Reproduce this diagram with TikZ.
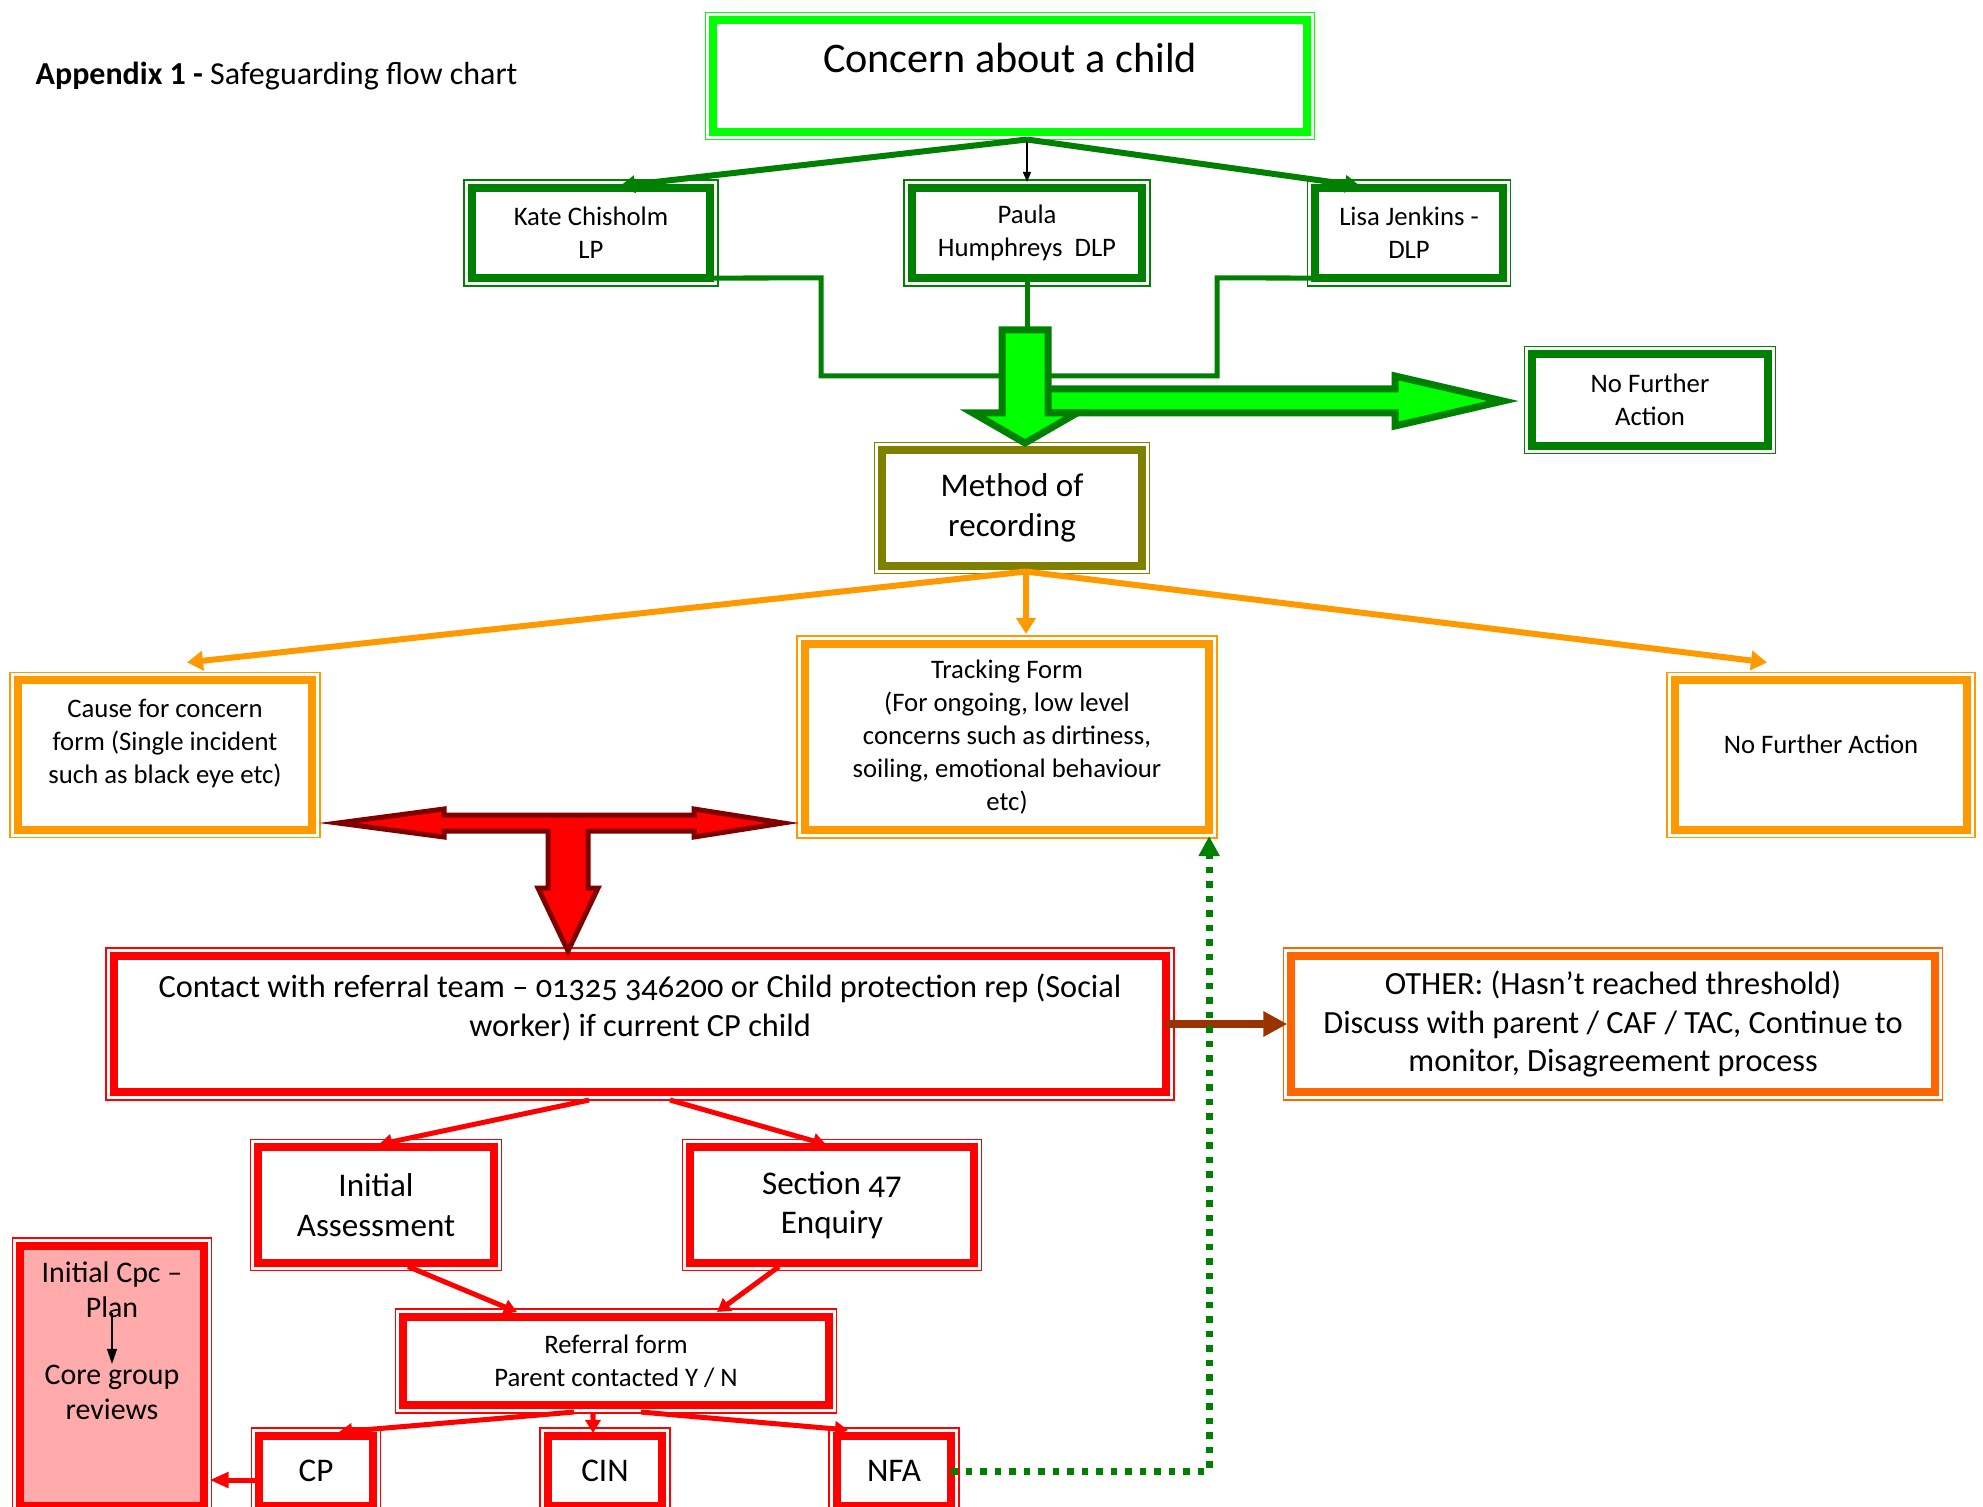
\documentclass[tikz,border=0pt]{standalone}
\usepackage{fontspec}
\setmainfont{Carlito}
\newfontfamily\corbel{Carlito}[Numbers=OldStyle]
\usetikzlibrary{arrows.meta}
\definecolor{brightgreen}{HTML}{00FF00}
\definecolor{dgreen}{HTML}{008000}
\definecolor{olivebox}{HTML}{808000}
\definecolor{amber}{HTML}{FF9900}
\definecolor{rust}{HTML}{FF6600}
\definecolor{brownarrow}{HTML}{993300}
\definecolor{darkred}{HTML}{800000}
\definecolor{pinkfill}{HTML}{FFABAB}
\tikzset{
  box/.style={draw=#1, line width=0.08cm, fill=white, align=center, inner sep=0pt, outer sep=0pt},
  txtS/.style={font=\fontsize{7.6}{9.4}\selectfont},
  txtM/.style={font=\corbel\fontsize{9.2}{10.9}\selectfont},
  txtL/.style={font=\corbel\fontsize{9.4}{11.2}\selectfont},
  cpcText/.style={align=center, inner sep=0pt, font=\corbel\fontsize{8.5}{10}\selectfont},
  elbow/.style={dgreen, line width=0.05cm},
  blockG/.style={draw=dgreen, line width=0.07cm, fill=brightgreen},
  blockR/.style={draw=darkred, line width=0.05cm, fill=red},
  gline/.style={dgreen, line width=0.06cm, -{Triangle[length=0.15cm, width=0.17cm]}},
  oline/.style={amber, line width=0.06cm, -{Triangle[length=0.16cm, width=0.19cm]}},
  rline/.style={red, line width=0.05cm, -{Triangle[length=0.13cm, width=0.15cm]}},
}
\begin{document}
\begin{tikzpicture}[x=0.01cm, y=-0.01cm]
  \useasboundingbox (0,0) rectangle (1983,1507);
  \node[anchor=west, inner sep=0pt, font=\fontsize{9.1}{11}\selectfont] (title) at (35,76) {\textbf{Appendix 1 -} Safeguarding flow chart};

  \node[box=brightgreen, minimum width=5.93cm, minimum height=1.11cm, font=\corbel\fontsize{12}{14}\selectfont, text height=8pt, text depth=10pt] (concern) at (1010,76) {Concern about a child};
  \node[box=dgreen, minimum width=2.38cm, minimum height=0.9cm, txtS] (kate) at (591,233) {Kate Chisholm\\LP};
  \node[box=dgreen, minimum width=2.30cm, minimum height=0.9cm, txtS] (paula) at (1027,233) {Paula\\Humphreys~ DLP};
  \node[box=dgreen, minimum width=1.87cm, minimum height=0.9cm, txtS] (lisa) at (1409,233) {Lisa Jenkins -\\DLP};
  \node[box=dgreen, minimum width=2.35cm, minimum height=0.91cm, txtS] (nfaTop) at (1650,400) {No Further\\Action};
  \node[box=olivebox, minimum width=2.59cm, minimum height=1.15cm, txtL] (method) at (1012,508) {Method of\\recording};
  \node[box=amber, minimum width=2.94cm, minimum height=1.49cm, txtS, text depth=7.8pt] (cause) at (165,755) {Cause for concern\\form (Single incident\\such as black eye etc)};
  \node[box=amber, minimum width=4.04cm, minimum height=1.86cm, txtS] (track) at (1007,737) {Tracking Form\\(For ongoing, low level\\concerns such as dirtiness,\\soiling, emotional behaviour\\etc)};
  \node[box=amber, minimum width=2.92cm, minimum height=1.49cm, txtS, text depth=6.2pt] (nfaMid) at (1821,755) {No Further Action};
  \node[box=red, minimum width=10.51cm, minimum height=1.36cm, txtM, text depth=10.7pt] (contact) at (640,1024) {Contact with referral team – 01325 346200 or Child protection rep (Social\\worker) if current CP child};
  \node[box=rust, minimum width=6.43cm, minimum height=1.36cm, txtM] (other) at (1613,1024) {OTHER: (Hasn’t reached threshold)\\Discuss with parent / CAF / TAC, Continue to\\monitor, Disagreement process};
  \node[box=red, minimum width=2.35cm, minimum height=1.15cm, txtL] (initial) at (376,1205) {Initial\\Assessment};
  \node[box=red, minimum width=2.83cm, minimum height=1.15cm, txtL] (section) at (832,1205) {Section 47\\Enquiry};
  \node[box=red, minimum width=4.25cm, minimum height=0.88cm, txtS] (referral) at (616,1361) {Referral form\\Parent contacted Y / N};
  \node[box=red, minimum width=1.13cm, minimum height=0.70cm, txtL] (cp) at (316,1471) {CP};
  \node[box=red, minimum width=1.14cm, minimum height=0.70cm, txtL] (cin) at (605,1471) {CIN};
  \node[box=red, minimum width=1.14cm, minimum height=0.70cm, txtL] (nfaLow) at (894,1471) {NFA};
  \node[box=red, fill=pinkfill, minimum width=1.83cm, minimum height=2.60cm] (cpc) at (112,1376) {};
  \node[cpcText] (cpcTop) at (112,1290) {Initial Cpc –\\Plan};
  \node[cpcText] (cpcBot) at (112,1392) {Core group\\reviews};

  \foreach \n/\c in {concern/brightgreen, kate/dgreen, paula/dgreen, lisa/dgreen, nfaTop/dgreen, method/olivebox, cause/amber, track/amber, nfaMid/amber, contact/red, other/rust, initial/red, section/red, referral/red, cp/red, cin/red, nfaLow/red, cpc/red}
    \draw[draw=\c, line width=0.015cm] ([shift={(-0.08cm,0.08cm)}]\n.north west) rectangle ([shift={(0.08cm,-0.08cm)}]\n.south east);

  \coordinate (fork) at (paula.north |- concern.south);
  \coordinate (hub) at (1026,376);
  \draw[gline] ([yshift=-0.08cm]fork) -- ([shift={(0.29cm,0.02cm)}]kate.north);
  \draw[black, line width=0.015cm, -{Triangle[length=0.1cm, width=0.08cm]}] ([yshift=-0.08cm]fork) -- ([yshift=0.06cm]paula.north);
  \draw[gline] ([yshift=-0.08cm]fork) -- ([shift={(-0.49cm,0.02cm)}]lisa.north);
  \draw[elbow] ([xshift=0.26cm]kate.south) -- (821,278) |- (hub);
  \draw[elbow] (lisa.south) -- (1217,278) |- (hub);
  \draw[elbow] (paula.south) -- (paula.south |- hub);

  \draw[blockG] (1045,389) -- (1395,389) -- (1395,376) -- (1503,401) -- (1395,426) -- (1395,413) -- (1045,413) -- cycle;
  \draw[blockG] (1002,330) -- (1048,330) -- (1048,413) -- (1077,413) -- (1025,443) -- (973,413) -- (1002,413) -- cycle;

  \coordinate (mfork) at ([shift={(0.14cm,-0.06cm)}]method.south);
  \draw[oline] (mfork) -- ([shift={(0.22cm,0.18cm)}]cause.north);
  \draw[oline] (mfork) -- ([yshift=0.1cm]mfork |- track.north);
  \draw[oline] (mfork) -- ([shift={(-0.54cm,0.18cm)}]nfaMid.north);

  \draw[blockR] (338,823) -- (444,809) -- (444,815) -- (694,815) -- (694,809) -- (783,823) -- (694,837) -- (694,831) -- (588,831) -- (588,888) -- (598,888) -- (568,951) -- (538,888) -- (548,888) -- (548,831) -- (444,831) -- (444,837) -- cycle;

  \draw[brownarrow, line width=0.08cm, -{Triangle[length=0.24cm, width=0.24cm]}] (contact.east) -- ([xshift=-0.04cm]other.west);

  \draw[rline] ([shift={(-0.51cm,-0.08cm)}]contact.south) -- ([shift={(0.03cm,0.03cm)}]initial.north);
  \draw[rline] ([shift={(0.3cm,-0.08cm)}]contact.south) -- ([shift={(-0.06cm,0.03cm)}]section.north);
  \draw[rline] ([shift={(0.32cm,-0.04cm)}]initial.south) -- ([shift={(-0.99cm,0.05cm)}]referral.north);
  \draw[rline] ([shift={(-0.53cm,-0.04cm)}]section.south) -- ([shift={(1.01cm,0.05cm)}]referral.north);
  \draw[rline] ([shift={(-0.42cm,-0.07cm)}]referral.south) -- ([shift={(0.23cm,0.04cm)}]cp.north);
  \draw[rline] ([shift={(-0.23cm,-0.07cm)}]referral.south) -- ([shift={(-0.12cm,0.03cm)}]cin.north);
  \draw[rline] ([shift={(0.25cm,-0.07cm)}]referral.south) -- ([shift={(-0.46cm,0.06cm)}]nfaLow.north);
  \draw[red, line width=0.05cm, -{Triangle[length=0.19cm, width=0.15cm]}] ([yshift=-0.09cm]cp.west) -- ([shift={(0.06cm,-0.09cm)}]cpc.east |- cp.west);
  \draw[black, line width=0.015cm, -{Triangle[length=0.15cm, width=0.1cm]}] ([yshift=-0.23cm]cpcTop.center) -- (cpcBot.north);

  \draw[dgreen, line width=0.07cm, dash pattern=on 0.065cm off 0.08cm, -{Triangle[length=0.2cm, width=0.2cm]}] (nfaLow.east) -| ([yshift=-0.06cm]track.south east);
\end{tikzpicture}
\end{document}
